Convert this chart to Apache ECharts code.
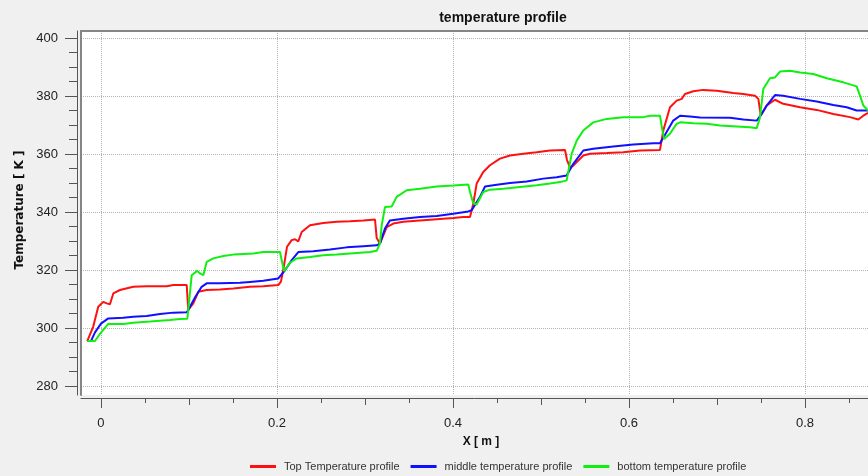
<!DOCTYPE html>
<html><head><meta charset="utf-8">
<script src="https://cdn.jsdelivr.net/npm/echarts@6/dist/echarts.min.js"></script>
<style>html,body{margin:0;padding:0;background:#f0f0f0;}#c{width:868px;height:476px;}</style>
</head><body><div id="c"></div>
<script>
const chartTitle = 'temperature profile';
const xName = 'X [ m ]';
const yName = 'Temperature [ K ]';
const seriesNames = ['Top Temperature profile', 'middle temperature profile', 'bottom temperature profile'];

const topX = [-0.0156,-0.0088,-0.0031,0.0026,0.0065,0.0102,0.0140,0.0216,0.0367,0.0519,0.0747,0.0822,0.0974,0.0992,0.1049,0.1106,0.1201,0.1352,0.1503,0.1693,0.1844,0.2015,0.2045,0.2074,0.2114,0.2167,0.2205,0.2242,0.2281,0.2375,0.2526,0.2678,0.2830,0.2981,0.3114,0.3133,0.3170,0.3247,0.3322,0.3435,0.3625,0.3815,0.4003,0.4117,0.4193,0.4212,0.4231,0.4269,0.4344,0.4420,0.4534,0.4648,0.4799,0.4951,0.5102,0.5273,0.5295,0.5330,0.5367,0.5481,0.5557,0.5747,0.5935,0.6125,0.6352,0.6390,0.6466,0.6542,0.6599,0.6636,0.6731,0.6844,0.6997,0.7185,0.7299,0.7432,0.7470,0.7489,0.7497,0.7565,0.7659,0.7753,0.7943,0.8133,0.8322,0.8511,0.8606,0.8663,0.8716];
const topT = [295.5,300.5,307.3,309.0,308.5,308.2,311.9,313.1,314.2,314.4,314.4,314.8,314.8,306.2,308.5,312.5,313.1,313.3,313.6,314.2,314.4,314.8,316.0,320.5,328.0,330.3,330.6,329.9,333.1,335.4,336.2,336.6,336.8,337.1,337.4,331.0,329.1,334.8,336.0,336.6,337.1,337.5,337.9,338.3,338.3,340.5,342.9,349.8,353.8,356.1,358.4,359.5,360.1,360.6,361.2,361.4,358.0,355.3,356.0,359.5,360.1,360.3,360.6,361.2,361.4,368.1,376.1,378.4,379.0,380.7,381.6,382.1,381.8,381.0,380.7,380.1,379.0,375.0,373.3,376.7,378.7,377.3,376.1,375.2,373.8,372.7,371.9,373.2,374.2];

const midX = [-0.0156,-0.0114,-0.0068,0,0.0083,0.0253,0.0367,0.0519,0.0670,0.0822,0.0974,0.0992,0.1068,0.1144,0.1201,0.1352,0.1580,0.1693,0.1844,0.2015,0.2091,0.2170,0.2242,0.2413,0.2602,0.2792,0.2981,0.3133,0.3170,0.3227,0.3284,0.3435,0.3625,0.3815,0.4003,0.4174,0.4212,0.4307,0.4364,0.4497,0.4648,0.4838,0.5026,0.5178,0.5292,0.5367,0.5481,0.5594,0.5822,0.6049,0.6276,0.6352,0.6390,0.6503,0.6580,0.6693,0.6807,0.7148,0.7299,0.7451,0.7497,0.7565,0.7659,0.7753,0.7943,0.8133,0.8322,0.8474,0.8587,0.8716];
const midT = [295.5,295.5,298.5,301.5,303.3,303.5,303.9,304.1,304.8,305.3,305.4,306.2,310.5,314.2,315.4,315.4,315.6,315.9,316.3,317.1,319.9,323.5,326.2,326.5,327.1,327.8,328.2,328.5,329.1,334.3,337.1,337.7,338.3,338.6,339.4,340.2,340.6,345.2,348.8,349.4,350.0,350.5,351.5,352.0,352.6,356.6,361.2,361.8,362.6,363.3,363.7,363.7,365.6,371.5,373.2,372.9,372.6,372.5,371.9,371.5,373.3,376.7,380.3,380.1,379.0,378.1,376.9,376.1,375.0,375.0];

const botX = [-0.0156,-0.0068,-0.0011,0.0083,0.0253,0.0367,0.0557,0.0670,0.0784,0.0898,0.0981,0.0992,0.1031,0.1094,0.1125,0.1163,0.1201,0.1276,0.1390,0.1503,0.1731,0.1844,0.2034,0.2080,0.2148,0.2224,0.2375,0.2526,0.2678,0.2906,0.3057,0.3133,0.3170,0.3190,0.3227,0.3303,0.3360,0.3474,0.3625,0.3815,0.4003,0.4174,0.4193,0.4231,0.4269,0.4344,0.4420,0.4572,0.4761,0.4951,0.5102,0.5216,0.5292,0.5349,0.5406,0.5481,0.5594,0.5747,0.5935,0.6163,0.6239,0.6352,0.6372,0.6398,0.6466,0.6542,0.6580,0.6731,0.6883,0.7034,0.7224,0.7375,0.7451,0.7489,0.7526,0.7602,0.7659,0.7716,0.7830,0.7943,0.8094,0.8247,0.8435,0.8587,0.8625,0.8663,0.8716];
const botT = [295.5,295.5,298.0,301.4,301.4,301.8,302.2,302.5,302.75,303.1,303.2,306.2,318.2,319.7,318.8,318.2,322.8,324.0,324.8,325.3,325.7,326.2,326.2,319.6,322.5,324.0,324.5,325.1,325.3,325.9,326.2,326.6,329.1,335.4,341.7,341.9,345.2,347.5,348.0,348.8,349.1,349.5,347.0,342.9,342.6,346.9,347.7,348.0,348.6,349.2,349.8,350.3,350.9,360.1,364.6,368.1,370.9,372.1,372.7,372.7,373.2,373.2,369.5,365.2,367.0,370.4,370.9,370.6,370.4,369.8,369.5,369.2,368.9,372.6,382.4,386.1,386.4,388.4,388.7,388.1,387.6,386.1,384.7,383.3,380.1,376.7,375.0];

const xMajorTicks = [0, 0.2, 0.4, 0.6, 0.8];
const xMidTicks = [0.1, 0.3, 0.5, 0.7];
const xMinorTicks = [0.05, 0.15, 0.25, 0.35, 0.45, 0.55, 0.65, 0.75, 0.85];
const yMajorTicks = [280, 300, 320, 340, 360, 380, 400];
const yMinorTicks = [285, 290, 295, 305, 310, 315, 325, 330, 335, 345, 350, 355, 365, 370, 375, 385, 390, 395];
const xRange = [-0.0227, 0.8716];
const yRange = [276.9, 402.4];

const colors = ['#ff1010', '#1010ff', '#10f010'];
const axisColor = '#555';
const sans = 'Liberation Sans, Arial, sans-serif';

function pairs(xs, ys) { return xs.map((x, i) => [x, ys[i]]); }

function xAxisDef(ticks, len, opts) {
  return Object.assign({
    type: 'value', gridIndex: 0, min: xRange[0], max: xRange[1], position: 'bottom', offset: 3,
    axisLine: { show: false, onZero: false },
    axisTick: { show: true, customValues: ticks, length: len, lineStyle: { color: axisColor } },
    axisLabel: { show: false }, splitLine: { show: false }
  }, opts || {});
}
function yAxisDef(ticks, len, opts) {
  return Object.assign({
    type: 'value', gridIndex: 0, min: yRange[0], max: yRange[1], position: 'left', offset: 4,
    axisLine: { show: false, onZero: false },
    axisTick: { show: true, customValues: ticks, length: len, lineStyle: { color: axisColor } },
    axisLabel: { show: false }, splitLine: { show: false }
  }, opts || {});
}

const chart = echarts.init(document.getElementById('c'), null, { renderer: 'canvas' });
chart.setOption({
  animation: false,
  backgroundColor: '#f0f0f0',
  title: {
    text: chartTitle, left: 498, top: 6, textAlign: 'center',
    textStyle: { fontFamily: sans, fontSize: 14, fontWeight: 'bold', color: '#111' }
  },
  legend: {
    left: 250, top: 461, padding: 0, itemWidth: 26, itemHeight: 3, itemGap: 11, icon: 'rect',
    textStyle: { fontFamily: sans, fontSize: 11, color: '#333', padding: [0, 0, 0, 3] },
    data: seriesNames
  },
  grid: { left: 81, top: 31, width: 787, height: 364, show: true, backgroundColor: '#ffffff', borderWidth: 0 },
  xAxis: [
    xAxisDef(xMajorTicks, 10, {
      axisLine: { show: true, onZero: false, lineStyle: { color: axisColor, width: 1 } },
      axisLabel: { show: true, customValues: xMajorTicks, margin: 19, fontFamily: sans, fontSize: 13, color: '#222' },
      splitLine: { show: true, lineStyle: { type: 'dotted', color: '#b4b4b4', width: 1 } },
      name: xName, nameLocation: 'middle', nameGap: 38,
      nameTextStyle: { fontFamily: sans, fontSize: 12, fontWeight: 'bold', color: '#111', padding: [0, 0, 0, 13] }
    }),
    xAxisDef(xMidTicks, 7),
    xAxisDef(xMinorTicks, 5),
    xAxisDef([], 0, { position: 'top', offset: 0, axisTick: { show: false },
      axisLine: { show: true, onZero: false, lineStyle: { color: '#858585', width: 2 } } })
  ],
  yAxis: [
    yAxisDef(yMajorTicks, 12, {
      axisLine: { show: true, onZero: false, lineStyle: { color: axisColor, width: 1 } },
      axisLabel: { show: true, customValues: yMajorTicks, margin: 19, fontFamily: sans, fontSize: 13, color: '#222' },
      splitLine: { show: true, lineStyle: { type: 'dotted', color: '#b4b4b4', width: 1 } },
      name: yName, nameLocation: 'middle', nameGap: 44, nameRotate: 90,
      nameTextStyle: { fontFamily: 'DejaVu Sans, sans-serif', fontSize: 12, fontWeight: 'bold', color: '#111', padding: [0, 0, 0, 6] }
    }),
    yAxisDef(yMinorTicks, 8),
    yAxisDef([], 0, { offset: 0, axisTick: { show: false },
      axisLine: { show: true, onZero: false, lineStyle: { color: '#858585', width: 2 } } })
  ],
  series: [
    { name: seriesNames[0], type: 'line', xAxisIndex: 0, yAxisIndex: 0, data: pairs(topX, topT), showSymbol: false, symbol: 'none', color: colors[0], lineStyle: { width: 2, color: colors[0] } },
    { name: seriesNames[1], type: 'line', xAxisIndex: 0, yAxisIndex: 0, data: pairs(midX, midT), showSymbol: false, symbol: 'none', color: colors[1], lineStyle: { width: 2, color: colors[1] } },
    { name: seriesNames[2], type: 'line', xAxisIndex: 0, yAxisIndex: 0, data: pairs(botX, botT), showSymbol: false, symbol: 'none', color: colors[2], lineStyle: { width: 2, color: colors[2] } }
  ]
});
</script></body></html>
